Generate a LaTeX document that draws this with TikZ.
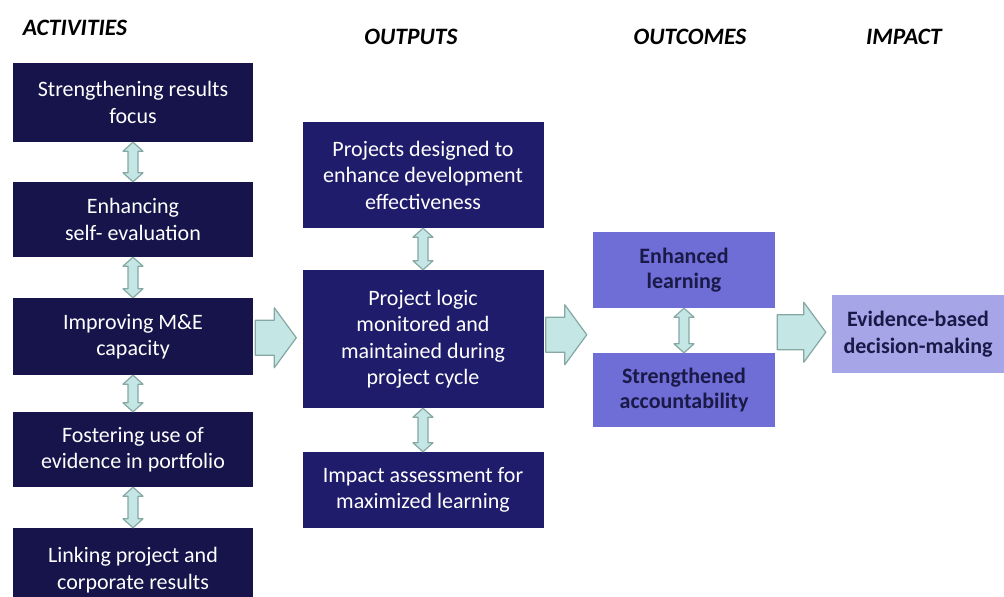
\documentclass[tikz,border=0pt]{standalone}
\usepackage{fontspec}
\setmainfont{Carlito}
\usetikzlibrary{calc}
\definecolor{actcol}{HTML}{16144A}
\definecolor{outcol}{HTML}{1F1C6C}
\definecolor{ocmcol}{HTML}{6F6DD6}
\definecolor{impcol}{HTML}{A6A5E8}
\definecolor{arrfill}{HTML}{C4E6E4}
\definecolor{arrline}{HTML}{86A8A4}
\definecolor{ocmtext}{HTML}{1A1A48}
\tikzset{
 boxbase/.style={rectangle, inner sep=2pt, align=center, font=\fontsize{22}{26.5}\selectfont},
 actbox/.style={boxbase, fill=actcol, text=white, minimum width=240pt},
 outbox/.style={boxbase, fill=outcol, text=white, minimum width=241pt},
 ocmbox/.style={boxbase, fill=ocmcol, text=ocmtext, font=\bfseries\fontsize{22}{25}\selectfont, minimum width=182pt},
 impbox/.style={boxbase, fill=impcol, text=ocmtext, font=\bfseries\fontsize{22}{27}\selectfont, minimum width=172pt},
 heading/.style={font=\bfseries\itshape\fontsize{23.5}{26}\selectfont, text=black},
 dblarrow/.style={fill=arrfill, draw=arrline, line width=1.2pt, line join=round},
}
\newcommand\vlink[2]{\draw[dblarrow] let \p1=(#1.south), \p2=(#2.north) in
  (\x1,\y1) -- (\x1+10,\y1-9) -- (\x1+5,\y1-9) -- (\x1+5,\y2+9) -- (\x1+10,\y2+9) -- (\x1,\y2)
  -- (\x1-10,\y2+9) -- (\x1-5,\y2+9) -- (\x1-5,\y1-9) -- (\x1-10,\y1-9) -- cycle;}
\newcommand\hlink[2]{\draw[dblarrow] let \p1=(#1), \p2=(#2), \p3=($(\p1)!0.5!(\p2)$) in
  (\x1+2,\y3+17.5) -- (\x2-28,\y3+17.5) -- (\x2-28,\y3+30) -- (\x2-6,\y3) -- (\x2-28,\y3-30)
  -- (\x2-28,\y3-17.5) -- (\x1+2,\y3-17.5) -- cycle;}
\begin{document}
\begin{tikzpicture}[x=1pt,y=-1pt]
\useasboundingbox (0,0) rectangle (1004,597);
\clip (0,0) rectangle (1004,597);
\node[heading] (h1) at (75,28) {ACTIVITIES};
\node[heading] (h2) at (411,37) {OUTPUTS};
\node[heading] (h3) at (690,37) {OUTCOMES};
\node[heading] (h4) at (904,37) {IMPACT};

\node[actbox, minimum height=79pt] (a1) at (133,102.5) {Strengthening results\\focus};
\node[actbox, minimum height=75pt] (a2) at (133,219.5) {Enhancing\\self- evaluation};
\node[actbox, minimum height=77pt] (a3) at (133,336.5) {Improving M\&E\\capacity};
\node[actbox, minimum height=75pt] (a4) at (133,449.5) {Fostering use of\\evidence in portfolio};
\node[actbox, minimum height=84pt] (a5) at (133,570) {Linking project and\\corporate results};

\node[outbox, minimum height=106pt] (o1) at (423,175) {Projects designed to\\enhance development\\effectiveness};
\node[outbox, minimum height=138pt] (o2) at (423,339) {Project logic\\monitored and\\maintained during\\project cycle};
\node[outbox, minimum height=76pt] (o3) at (423,490) {Impact assessment for\\maximized learning};

\node[ocmbox, minimum height=76pt] (m1) at (684,270) {Enhanced\\learning};
\node[ocmbox, minimum height=74pt] (m2) at (684,390) {Strengthened\\accountability};

\node[impbox, minimum height=78pt] (p1) at (918,334) {Evidence-based\\decision-making};

\coordinate (mmid) at ($(m1.south west)!0.5!(m2.north west)$);

\vlink{a1}{a2}
\vlink{a2}{a3}
\vlink{a3}{a4}
\vlink{a4}{a5}
\vlink{o1}{o2}
\vlink{o2}{o3}
\vlink{m1}{m2}

\hlink{a3.east}{o2.west}
\hlink{o2.east}{mmid}
\hlink{m1.east |- mmid}{p1.west}
\end{tikzpicture}
\end{document}
